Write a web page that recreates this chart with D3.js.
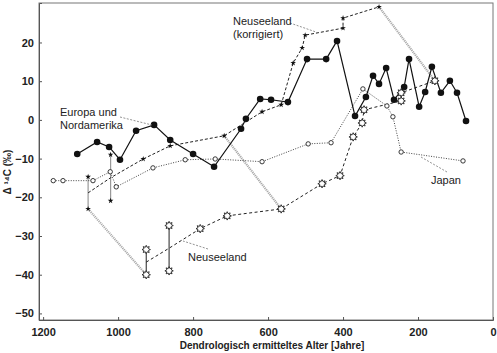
<!DOCTYPE html>
<html>
<head>
<meta charset="utf-8">
<script src="https://cdn.jsdelivr.net/npm/d3@7"></script>
<style>
  body { margin: 0; background: #fff; }
  svg { font-family: "Liberation Sans", Arial, sans-serif; }
</style>
</head>
<body>
<div id="chart-area"></div>
<script>
// Europa und Nordamerika (filled circles, solid line)
var europeAge  = [1109,1056,1024,995,952,904,861,800,744,672,659,621,592,547,496,445,416,368,339,320,304,285,264,237,224,197,181,163,139,115,96,72];
var europeD14C = [-8.8,-5.7,-7.0,-10.3,-2.8,-1.3,-5.2,-8.8,-12.1,-2.3,0.3,5.4,5.2,4.6,15.7,15.7,20.4,1.0,5.9,11.4,9.3,13.4,5.2,8.5,15.7,3.4,7.2,13.7,7.0,10.1,7.0,-0.3];

// Neuseeland (korrigiert) - small stars, dashed
var nzKorrBarAge = [1080, 1020];
var nzKorrBarLo  = [-23.0, -20.9];
var nzKorrBarHi  = [-14.7, -9.0];
var nzKorrAge  = [933,861,717,616,565,533,509,501,400,400,304];
var nzKorrD14C = [-10.1,-6.7,-4.1,2.1,3.9,14.7,18.6,21.9,23.7,26.3,29.2];

// Neuseeland - open stars, dashed
var nzBarAge = [925, 864];
var nzBarLo  = [-40.0, -39.0];
var nzBarHi  = [-33.5, -27.3];
var nzAge  = [781,709,565,456,408,373,349,344,245,245,155];
var nzD14C = [-28.1,-24.8,-23.0,-16.5,-14.4,-4.4,-0.8,2.6,4.9,7.0,10.1];

// Japan - open circles, dotted
var japanAge  = [1173,1147,1067,1021,1005,907,821,741,616,493,432,347,283,267,245,80];
var japanD14C = [-15.7,-15.7,-15.7,-13.4,-17.3,-12.4,-10.3,-10.1,-10.8,-6.2,-5.9,8.0,3.6,0.8,-8.3,-10.6];

// grey links: corrected point -> uncorrected point
var linkFromAge  = [1080, 717, 304];
var linkFromD14C = [-23.0, -4.1, 29.2];
var linkToAge    = [925, 565, 155];
var linkToD14C   = [-40.0, -23.0, 10.1];

var xTicks = [1200, 1000, 800, 600, 400, 200, 0];
var yTicks = [-50, -40, -30, -20, -10, 0, 10, 20];

var svg = d3.select("#chart-area")
    .append("svg")
        .attr("width", 497)
        .attr("height", 353);

var x = d3.scaleLinear().domain([1211, 0]).range([39, 493]);
var y = d3.scaleLinear().domain([-51.7, 30.2]).range([320, 3]);

// frame
svg.append("rect")
    .attr("x", x(1211)).attr("y", y(30.2))
    .attr("width", x(0) - x(1211)).attr("height", y(-51.7) - y(30.2))
    .attr("fill", "none").attr("stroke", "#777").attr("stroke-width", 1);

// axes (ticks inside)
var xAxis = d3.axisBottom(x).tickValues(xTicks).tickFormat(d3.format("d")).tickSize(-3).tickPadding(8);
var yAxis = d3.axisLeft(y).tickValues(yTicks).tickSize(-3).tickPadding(5);

var gx = svg.append("g").attr("transform", "translate(0," + y(-51.7) + ")").call(xAxis);
var gy = svg.append("g").attr("transform", "translate(" + x(1211) + ",0)").call(yAxis);
[gx, gy].forEach(function(g) {
    g.select(".domain").attr("stroke", "#555");
    g.selectAll(".tick line").attr("stroke", "#555");
    g.selectAll("text").attr("font-size", 11).attr("font-weight", "bold")
        .attr("fill", "#222").attr("font-family", "Liberation Sans, Arial, sans-serif");
});
gy.selectAll("text").text(function(d) { return d < 0 ? "\u2212" + (-d) : d; });

// axis titles
svg.append("text")
    .attr("x", 272).attr("y", 349)
    .attr("text-anchor", "middle")
    .attr("font-size", 10).attr("font-weight", "bold").attr("fill", "#222")
    .text("Dendrologisch ermitteltes Alter [Jahre]");

svg.append("text")
    .attr("transform", "translate(11,172) rotate(-90)")
    .attr("text-anchor", "middle")
    .attr("font-size", 10).attr("font-weight", "bold").attr("fill", "#222")
    .text("\u0394 \u00b9\u2074C (\u2030)");

function zip(ax, vy) {
    return ax.map(function(a, i) { return [a, vy[i]]; });
}
function mids(ax, lo, hi) {
    return ax.map(function(a, i) { return [a, (lo[i] + hi[i]) / 2]; });
}

var line = d3.line()
    .x(function(d) { return x(d[0]); })
    .y(function(d) { return y(d[1]); });

// grey link bands
linkFromAge.forEach(function(a, i) {
    svg.append("line")
        .attr("x1", x(a)).attr("y1", y(linkFromD14C[i]))
        .attr("x2", x(linkToAge[i])).attr("y2", y(linkToD14C[i]))
        .attr("stroke", "#aaa").attr("stroke-width", 2.2)
        .attr("stroke-dasharray", "1.2,0.8");
});

// range bars
nzKorrBarAge.forEach(function(a, i) {
    svg.append("line")
        .attr("x1", x(a)).attr("x2", x(a))
        .attr("y1", y(nzKorrBarLo[i])).attr("y2", y(nzKorrBarHi[i]))
        .attr("stroke", "#999").attr("stroke-width", 1.2);
});
nzBarAge.forEach(function(a, i) {
    svg.append("line")
        .attr("x1", x(a)).attr("x2", x(a))
        .attr("y1", y(nzBarLo[i])).attr("y2", y(nzBarHi[i]))
        .attr("stroke", "#222").attr("stroke-width", 1);
});

// series lines
var japanPts = zip(japanAge, japanD14C);
svg.append("path").datum(japanPts).attr("d", line)
    .attr("fill", "none").attr("stroke", "#444").attr("stroke-width", 1)
    .attr("stroke-dasharray", "1,1.5");

var nzPts = zip(nzAge, nzD14C);
svg.append("path").datum(mids(nzBarAge, nzBarLo, nzBarHi).concat(nzPts)).attr("d", line)
    .attr("fill", "none").attr("stroke", "#222").attr("stroke-width", 1)
    .attr("stroke-dasharray", "3,2.5");

var nzKorrPts = zip(nzKorrAge, nzKorrD14C);
svg.append("path").datum(mids(nzKorrBarAge, nzKorrBarLo, nzKorrBarHi).concat(nzKorrPts)).attr("d", line)
    .attr("fill", "none").attr("stroke", "#222").attr("stroke-width", 1)
    .attr("stroke-dasharray", "3,2");

var europePts = zip(europeAge, europeD14C);
svg.append("path").datum(europePts).attr("d", line)
    .attr("fill", "none").attr("stroke", "#111").attr("stroke-width", 1.2);

// markers
svg.selectAll(".eu").data(europePts).enter()
    .append("circle")
        .attr("cx", function(d) { return x(d[0]); })
        .attr("cy", function(d) { return y(d[1]); })
        .attr("r", 3.3)
        .attr("fill", "#111");

svg.selectAll(".jp").data(japanPts).enter()
    .append("circle")
        .attr("cx", function(d) { return x(d[0]); })
        .attr("cy", function(d) { return y(d[1]); })
        .attr("r", 2.2)
        .attr("fill", "#fff").attr("stroke", "#222").attr("stroke-width", 0.9);

var smallStar = d3.symbol().type(d3.symbolStar).size(10);
var korrMarks = nzKorrPts.concat(
    zip(nzKorrBarAge, nzKorrBarLo), zip(nzKorrBarAge, nzKorrBarHi));
svg.selectAll(".nzk").data(korrMarks).enter()
    .append("path")
        .attr("d", smallStar)
        .attr("transform", function(d) { return "translate(" + x(d[0]) + "," + y(d[1]) + ")"; })
        .attr("fill", "#111");

// open "sun" star for Neuseeland
function sunPath(rOut, rIn, n) {
    var pts = [];
    for (var k = 0; k < 2 * n; k++) {
        var r = k % 2 === 0 ? rOut : rIn;
        var ang = Math.PI * k / n - Math.PI / 2;
        pts.push([r * Math.cos(ang), r * Math.sin(ang)]);
    }
    return "M" + pts.map(function(p) { return p[0].toFixed(2) + "," + p[1].toFixed(2); }).join("L") + "Z";
}
var nzMarks = nzPts.concat(zip(nzBarAge, nzBarLo), zip(nzBarAge, nzBarHi));
svg.selectAll(".nz").data(nzMarks).enter()
    .append("path")
        .attr("d", sunPath(4.2, 2.4, 8))
        .attr("transform", function(d) { return "translate(" + x(d[0]) + "," + y(d[1]) + ")"; })
        .attr("fill", "#fff").attr("stroke", "#222").attr("stroke-width", 0.9);

// labels with leader lines
var labels = [
    { lines: ["Europa und", "Nordamerika"], x: 60, y: 116, lead: [[120, 117], [152, 125]] },
    { lines: ["Neuseeland", "(korrigiert)"], x: 233, y: 25, lead: [[290, 23], [316, 32]] },
    { lines: ["Japan"], x: 431, y: 184, lead: [[447, 172], [421, 157]] },
    { lines: ["Neuseeland"], x: 188, y: 261, lead: [[208, 249], [183, 241]] }
];
labels.forEach(function(l) {
    svg.append("line")
        .attr("x1", l.lead[0][0]).attr("y1", l.lead[0][1])
        .attr("x2", l.lead[1][0]).attr("y2", l.lead[1][1])
        .attr("stroke", "#777").attr("stroke-width", 0.8)
        .attr("stroke-dasharray", "2,1.5");
    l.lines.forEach(function(t, i) {
        svg.append("text")
            .attr("x", l.x).attr("y", l.y + i * 13)
            .attr("font-size", 11).attr("fill", "#222")
            .text(t);
    });
});
</script>
</body>
</html>
